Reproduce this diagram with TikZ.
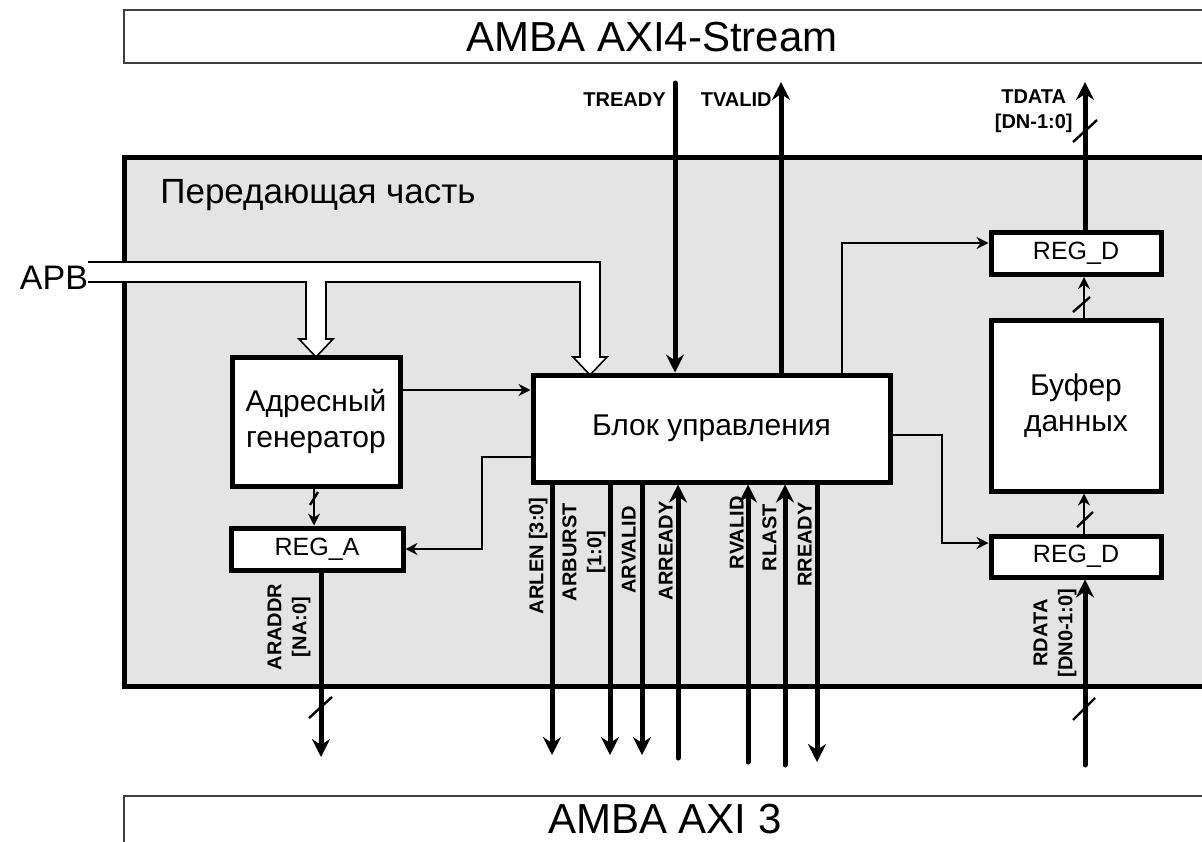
\documentclass[tikz,border=0pt]{standalone}
\usepackage{fontspec}
\setmainfont{Liberation Sans}
\usetikzlibrary{arrows.meta}
\definecolor{panel}{RGB}{228,228,228}

\begin{document}
\begin{tikzpicture}[x=0.5pt,y=-0.5pt,
  block/.style={draw,line width=2.5pt,fill=white,inner sep=0pt,align=center,font=\fontsize{15}{18}\selectfont},
  reg/.style={draw,line width=2.5pt,fill=white,inner sep=0pt,font=\fontsize{12.5}{15}\selectfont,minimum width=85pt,minimum height=21pt},
  sig/.style={line width=2.5pt,line cap=round,-{Stealth[length=9pt,width=9pt,inset=3pt]}},
  wire/.style={line width=1pt,-{Stealth[length=6pt,width=6pt,inset=2pt]}},
  link/.style={line width=1.4pt,-{Stealth[length=6pt,width=6pt,inset=2pt]}},
  busmark/.style={line width=1.2pt},
  frame/.style={line width=0.8pt,draw=black!75},
  lbl/.style={font=\fontsize{10}{12.5}\selectfont\bfseries,inner sep=0pt,align=center},
  vlbl/.style={lbl,rotate=90}]
\useasboundingbox (0,0) rectangle (1202,841);

% interfaces
\draw[frame] (124,10) rectangle (1240,63);
\node[font=\fontsize{21}{24}\selectfont,inner sep=0pt] (axis) at (652,37) {AMBA AXI4-Stream};
\draw[frame] (124,796) rectangle (1240,880);
\node[font=\fontsize{21}{24}\selectfont,inner sep=0pt] (axi) at (665,819) {AMBA AXI 3};

% transmit part
\draw[line width=2.5pt,fill=panel] (124,157) rectangle (1240,686);
\node[anchor=west,font=\fontsize{17.5}{20}\selectfont,inner sep=0pt] (txlbl) at (160,195) {Передающая часть};

% APB bus
\node[font=\fontsize{17}{20}\selectfont,inner sep=0pt] (apb) at (54,278) {APB};
\draw[line width=0.8pt,fill=white] (88,262) -- (600,262) -- (600,357) -- (607,357) -- (590,375)
  -- (573,357) -- (580,357) -- (580,282) -- (326,282) -- (326,339) -- (333,339) -- (316,357)
  -- (299,339) -- (306,339) -- (306,282) -- (88,282);

% blocks
\node[block,minimum width=178.5pt,minimum height=53.5pt] (ctrl) at (711.5,428.5) {Блок управления};
\node[block,minimum width=84pt,minimum height=64.5pt] (agen) at (316,421.5) {Адресный\\генератор};
\node[reg,minimum width=86pt] (rega) at (317,549) {REG\_A};
\node[reg] (regdt) at (1076,253.5) {REG\_D};
\node[block,minimum width=85pt,minimum height=85.5pt] (buf) at (1076,405.5) {Буфер\\данных};
\node[reg,minimum height=20.5pt] (regdb) at (1076,556.5) {REG\_D};

% internal links
\coordinate (ain) at (0,390);
\draw[wire] (agen.east |- ain) -- (ctrl.west |- ain);
\coordinate (fbk) at (482,457);
\draw[wire] (ctrl.west |- fbk) -- (fbk) |- (rega.east);
\coordinate (up1) at (842,243);
\draw[wire] (ctrl.north -| up1) -- (up1) -- (regdt.west |- up1);
\coordinate (dn1) at (942,435);
\coordinate (dn2) at (942,543);
\draw[wire] (ctrl.east |- dn1) -- (dn1) -- (dn2) -- (regdb.west |- dn2);

\coordinate (acol) at (314,0);
\draw[link] (agen.south -| acol) -- (rega.north -| acol);
\draw[busmark] (310,505) -- (318,492);
\coordinate (dcol) at (1084,0);
\draw[link] (regdb.north -| dcol) -- (buf.south -| dcol);
\draw[busmark] (1077,527) -- (1093,512);
\draw[link] (buf.north -| dcol) -- (regdt.south -| dcol);
\draw[busmark] (1073,312) -- (1090,297);

% AXI4-Stream signals
\coordinate (tready) at (675,83);
\draw[sig] (tready) -- (ctrl.north -| tready);
\node[lbl,anchor=east] (treadylbl) at (666,100) {TREADY};
\coordinate (tvalid) at (781,82);
\draw[sig] (ctrl.north -| tvalid) -- (tvalid);
\node[lbl,anchor=east] (tvalidlbl) at (772,100) {TVALID};
\coordinate (tdata) at (1085,82);
\draw[sig] (regdt.north -| tdata) -- (tdata);
\draw[busmark] (1073,142) -- (1097,120);
\node[lbl,anchor=east] (tdatalbl) at (1073,111) {TDATA\\{[DN-1:0]}};

% AXI3 signals
\coordinate (araddr) at (321,757);
\draw[sig] (rega.south -| araddr) -- (araddr);
\draw[busmark] (309,718) -- (332,697);
\node[vlbl,anchor=south] (araddrlbl) at (311,627) {ARADDR\\{[NA:0]}};

\coordinate (arlen) at (552,755);
\draw[sig] (ctrl.south -| arlen) -- (arlen);
\node[vlbl,anchor=south east] (arlenlbl) at (548,497) {ARLEN [3:0]};
\coordinate (arburst) at (610,755);
\draw[sig] (ctrl.south -| arburst) -- (arburst);
\node[vlbl,anchor=south east] (arburstlbl) at (606,503) {ARBURST\\{[1:0]}};
\coordinate (arvalid) at (642,755);
\draw[sig] (ctrl.south -| arvalid) -- (arvalid);
\node[vlbl,anchor=south east] (arvalidlbl) at (636,506) {ARVALID};
\coordinate (arready) at (678,758);
\draw[sig] (arready) -- (ctrl.south -| arready);
\node[vlbl,anchor=south east] (arreadylbl) at (673,501) {ARREADY};
\coordinate (rvalid) at (748,762);
\draw[sig] (rvalid) -- (ctrl.south -| rvalid);
\node[vlbl,anchor=south east] (rvalidlbl) at (744,496) {RVALID};
\coordinate (rlast) at (785,765);
\draw[sig] (rlast) -- (ctrl.south -| rlast);
\node[vlbl,anchor=south east] (rlastlbl) at (777,504) {RLAST};
\coordinate (rready) at (817,762);
\draw[sig] (ctrl.south -| rready) -- (rready);
\node[vlbl,anchor=south east] (rreadylbl) at (812,502) {RREADY};

\coordinate (rdata) at (1085,765);
\draw[sig] (rdata) -- (regdb.south -| rdata);
\draw[busmark] (1073,720) -- (1095,698);
\node[vlbl,anchor=south] (rdatalbl) at (1077,633) {RDATA\\{[DN0-1:0]}};
\end{tikzpicture}
\end{document}
